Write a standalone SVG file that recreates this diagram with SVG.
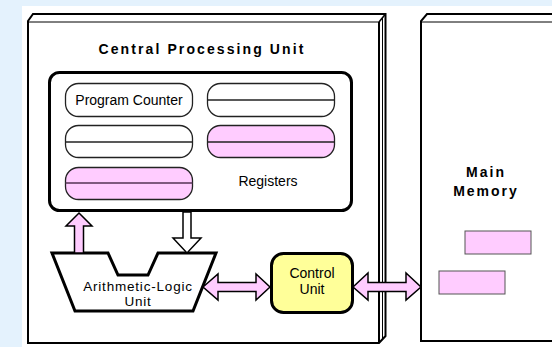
<svg xmlns="http://www.w3.org/2000/svg" width="552" height="347" viewBox="0 0 552 347">
<style>
.t{font-family:"Liberation Sans",Arial,sans-serif;fill:#000}
.title{font-size:14px;font-weight:bold;letter-spacing:2.1px}
.lbl{font-size:14px}
.box{fill:#fff;stroke:#000;stroke-width:2}
.thin{fill:none;stroke:#000;stroke-width:1}
.pill{stroke:#222;stroke-width:1.3}
.w{fill:#fff}
.p{fill:#ffccff}
.mid{stroke:#222;stroke-width:1.3}
.pmid{stroke:#553355;stroke-width:1.5}
.arr{stroke:#000;stroke-width:1.5;stroke-linejoin:miter}
.alu{font-size:13.5px;letter-spacing:0.8px}
</style>
<rect x="0" y="0" width="552" height="347" fill="#e4f2fd"/>
<rect x="22" y="6" width="530" height="341" fill="#fff"/>

<g id="cpu">
  <path class="box" d="M28,343 L28,21 L33,14 L385.5,14 L385.5,336 L379,343 Z"/>
  <line class="thin" x1="28" y1="22" x2="379" y2="22"/>
  <line x1="379" y1="22" x2="379" y2="343" stroke="#000" stroke-width="2"/>
  <line x1="379" y1="22" x2="385.5" y2="14" stroke="#000" stroke-width="1.5"/>
  <line class="thin" x1="382.5" y1="18" x2="382.5" y2="339"/>
  <text class="t title" x="202" y="54" text-anchor="middle">Central Processing Unit</text>
</g>

<g id="memory">
  <path class="box" d="M421,341 L421,21 L427,14 L556,14 L556,341 Z"/>
  <line class="thin" x1="421" y1="22" x2="556" y2="22" stroke="#444"/>
  <text class="t title" x="486" y="177" text-anchor="middle" style="letter-spacing:2px">Main</text>
  <text class="t title" x="486" y="196" text-anchor="middle" style="letter-spacing:2px">Memory</text>
  <rect x="465" y="231" width="66" height="23" fill="#ffccff" stroke="#555" stroke-width="1"/>
  <rect x="439" y="271" width="66" height="23" fill="#ffccff" stroke="#555" stroke-width="1"/>
</g>

<g id="registers">
  <rect x="49.5" y="72.5" width="302" height="138" rx="10" ry="10" fill="#fff" stroke="#000" stroke-width="3"/>
  <rect class="pill w" x="65.5" y="83.5" width="127" height="33" rx="13" ry="13"/>
  <text class="t lbl" x="129" y="104.5" text-anchor="middle">Program Counter</text>
  <rect class="pill w" x="207.5" y="83.5" width="127" height="33" rx="13" ry="13"/>
  <line class="mid" x1="207.5" y1="100" x2="334.5" y2="100"/>
  <rect class="pill w" x="65.5" y="125.5" width="127" height="32" rx="13" ry="13"/>
  <line class="mid" x1="65.5" y1="142" x2="192.5" y2="142"/>
  <rect class="pill p" x="207.5" y="125.5" width="127" height="32" rx="13" ry="13"/>
  <line class="mid" x1="207.5" y1="142" x2="334.5" y2="142"/>
  <rect class="pill p" x="65.5" y="167.5" width="127" height="32" rx="13" ry="13"/>
  <line class="pmid" x1="65.5" y1="183" x2="192.5" y2="183"/>
  <text class="t lbl" x="268" y="186" text-anchor="middle">Registers</text>
</g>

<g id="alu">
  <polygon points="52,253 108,253 118,275 148,275 158,253 216,253 193,311 75,311" fill="#fff" stroke="#000" stroke-width="3" stroke-linejoin="miter"/>
  <text class="t alu" x="138" y="290.5" text-anchor="middle">Arithmetic-Logic</text>
  <text class="t alu" x="138" y="306" text-anchor="middle">Unit</text>
</g>

<g id="control">
  <rect x="271.5" y="253.5" width="81" height="59" rx="12" ry="12" fill="#ffff99" stroke="#000" stroke-width="3"/>
  <text class="t lbl" x="312" y="278" text-anchor="middle">Control</text>
  <text class="t lbl" x="312" y="294" text-anchor="middle">Unit</text>
</g>

<g id="connectors">
  <polygon class="arr" fill="#ffccff" points="79,213 92,226 83.5,226 83.5,253 74.5,253 74.5,226 66,226"/>
  <polygon class="arr" fill="#fff" points="183,212 191,212 191,238 201,238 187,253 173,238 183,238"/>
  <polygon class="arr" fill="#ffccff" points="203,287 218,274 218,282.5 256,282.5 256,274 270,287 256,300 256,291.5 218,291.5 218,300"/>
  <polygon class="arr" fill="#ffccff" points="353,287 368,273 368,282.5 406,282.5 406,273 421,287 406,300 406,291.5 368,291.5 368,300"/>
</g>
</svg>
